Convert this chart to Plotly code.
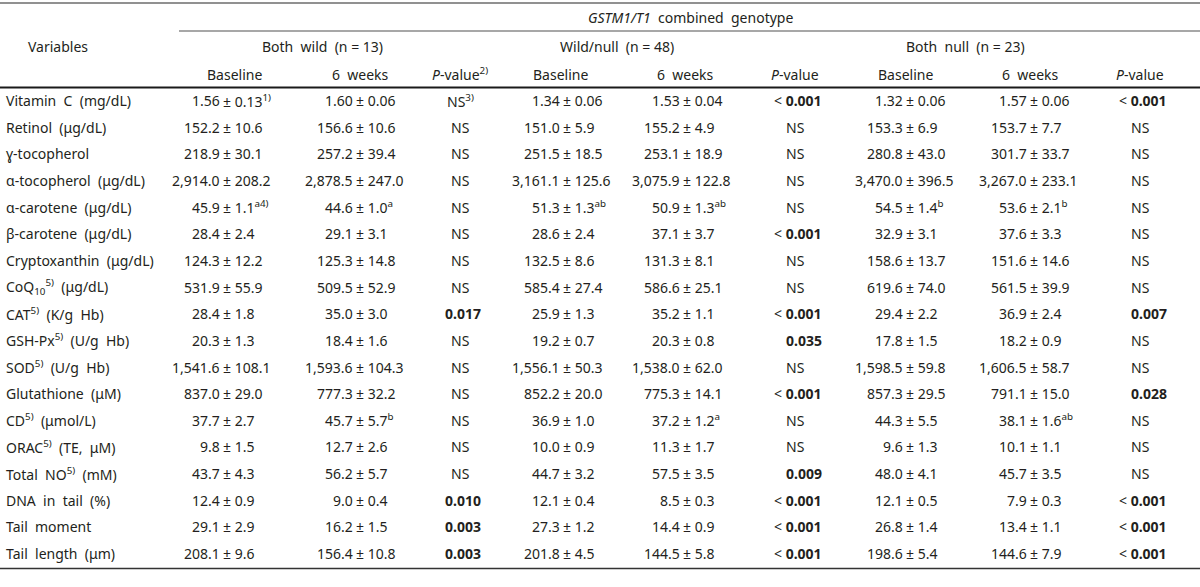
import plotly.graph_objects as go

# ---------------- data ----------------
variables = [
    "Vitamin C (mg/dL)", "Retinol (μg/dL)", "ɣ-tocopherol", "α-tocopherol (μg/dL)",
    "α-carotene (μg/dL)", "β-carotene (μg/dL)", "Cryptoxanthin (μg/dL)",
    "CoQ<sub>10</sub><sup>5)</sup> (μg/dL)", "CAT<sup>5)</sup> (K/g Hb)",
    "GSH-Px<sup>5)</sup> (U/g Hb)", "SOD<sup>5)</sup> (U/g Hb)", "Glutathione (μM)",
    "CD<sup>5)</sup> (μmol/L)", "ORAC<sup>5)</sup> (TE, μM)", "Total NO<sup>5)</sup> (mM)",
    "DNA in tail (%)", "Tail moment", "Tail length (μm)",
]

group_labels = ["Both wild (n = 13)", "Wild/null (n = 48)", "Both null (n = 23)"]
sub_labels = ["Baseline", "6 weeks", "<i>P</i>-value<sup>2)</sup>",
              "Baseline", "6 weeks", "<i>P</i>-value",
              "Baseline", "6 weeks", "<i>P</i>-value"]

bw_base = ["1.56 ± 0.13<sup>1)</sup>", "152.2 ± 10.6", "218.9 ± 30.1", "2,914.0 ± 208.2",
           "45.9 ± 1.1<sup>a4)</sup>", "28.4 ± 2.4", "124.3 ± 12.2", "531.9 ± 55.9",
           "28.4 ± 1.8", "20.3 ± 1.3", "1,541.6 ± 108.1", "837.0 ± 29.0", "37.7 ± 2.7",
           "9.8 ± 1.5", "43.7 ± 4.3", "12.4 ± 0.9", "29.1 ± 2.9", "208.1 ± 9.6"]
bw_6w = ["1.60 ± 0.06", "156.6 ± 10.6", "257.2 ± 39.4", "2,878.5 ± 247.0",
         "44.6 ± 1.0<sup>a</sup>", "29.1 ± 3.1", "125.3 ± 14.8", "509.5 ± 52.9",
         "35.0 ± 3.0", "18.4 ± 1.6", "1,593.6 ± 104.3", "777.3 ± 32.2",
         "45.7 ± 5.7<sup>b</sup>", "12.7 ± 2.6", "56.2 ± 5.7", "9.0 ± 0.4", "16.2 ± 1.5",
         "156.4 ± 10.8"]
bw_p = ["NS<sup>3)</sup>", "NS", "NS", "NS", "NS", "NS", "NS", "NS", "0.017", "NS", "NS",
        "NS", "NS", "NS", "NS", "0.010", "0.003", "0.003"]

wn_base = ["1.34 ± 0.06", "151.0 ± 5.9", "251.5 ± 18.5", "3,161.1 ± 125.6",
           "51.3 ± 1.3<sup>ab</sup>", "28.6 ± 2.4", "132.5 ± 8.6", "585.4 ± 27.4",
           "25.9 ± 1.3", "19.2 ± 0.7", "1,556.1 ± 50.3", "852.2 ± 20.0", "36.9 ± 1.0",
           "10.0 ± 0.9", "44.7 ± 3.2", "12.1 ± 0.4", "27.3 ± 1.2", "201.8 ± 4.5"]
wn_6w = ["1.53 ± 0.04", "155.2 ± 4.9", "253.1 ± 18.9", "3,075.9 ± 122.8",
         "50.9 ± 1.3<sup>ab</sup>", "37.1 ± 3.7", "131.3 ± 8.1", "586.6 ± 25.1",
         "35.2 ± 1.1", "20.3 ± 0.8", "1,538.0 ± 62.0", "775.3 ± 14.1",
         "37.2 ± 1.2<sup>a</sup>", "11.3 ± 1.7", "57.5 ± 3.5", "8.5 ± 0.3", "14.4 ± 0.9",
         "144.5 ± 5.8"]
wn_p = ["<0.001", "NS", "NS", "NS", "NS", "<0.001", "NS", "NS", "<0.001", "0.035", "NS",
        "<0.001", "NS", "NS", "0.009", "<0.001", "<0.001", "<0.001"]

bn_base = ["1.32 ± 0.06", "153.3 ± 6.9", "280.8 ± 43.0", "3,470.0 ± 396.5",
           "54.5 ± 1.4<sup>b</sup>", "32.9 ± 3.1", "158.6 ± 13.7", "619.6 ± 74.0",
           "29.4 ± 2.2", "17.8 ± 1.5", "1,598.5 ± 59.8", "857.3 ± 29.5", "44.3 ± 5.5",
           "9.6 ± 1.3", "48.0 ± 4.1", "12.1 ± 0.5", "26.8 ± 1.4", "198.6 ± 5.4"]
bn_6w = ["1.57 ± 0.06", "153.7 ± 7.7", "301.7 ± 33.7", "3,267.0 ± 233.1",
         "53.6 ± 2.1<sup>b</sup>", "37.6 ± 3.3", "151.6 ± 14.6", "561.5 ± 39.9",
         "36.9 ± 2.4", "18.2 ± 0.9", "1,606.5 ± 58.7", "791.1 ± 15.0",
         "38.1 ± 1.6<sup>ab</sup>", "10.1 ± 1.1", "45.7 ± 3.5", "7.9 ± 0.3", "13.4 ± 1.1",
         "144.6 ± 7.9"]
bn_p = ["<0.001", "NS", "NS", "NS", "NS", "NS", "NS", "NS", "0.007", "NS", "NS", "0.028",
        "NS", "NS", "NS", "<0.001", "<0.001", "<0.001"]

# ---------------- layout helpers ----------------
FONT = "Noto Sans"
FS = 14
TXT = "#231f20"

W, H = 1200, 587
row_y0, row_dy = 100.5, 26.65
y_title, y_group, y_sub = 17, 46, 74

value_cols = [(bw_base, 226), (bw_6w, 359), (wn_base, 566), (wn_6w, 686),
              (bn_base, 909), (bn_6w, 1033)]
p_cols = [(bw_p, 460, 482), (wn_p, 795, 823), (bn_p, 1140, 1168)]
sub_x = [234, 360, 460, 560, 685, 795, 905, 1030, 1140]
group_x = [322, 617, 965]

ann = []


def add(x, y, text, anchor="center"):
    ann.append(dict(x=x, y=y, xref="x", yref="y", text=text, showarrow=False,
                    xanchor=anchor, yanchor="middle", borderpad=0,
                    font=dict(family=FONT, size=FS, color=TXT)))


def wide(s):
    return s.replace(" ", "\u00a0 ")


# header
add(690, y_title, "<i>GSTM1/T1</i>\u00a0 combined\u00a0 genotype")
add(58, y_group, "Variables")
for gx, gl in zip(group_x, group_labels):
    add(gx, y_group, gl.replace("n = ", "n=").replace(" ", "\u00a0 ").replace("n=", "n = "))
for sx, sl in zip(sub_x, sub_labels):
    add(sx, y_sub, sl.replace("6 weeks", "6\u00a0 weeks"))

# body
for i, v in enumerate(variables):
    y = row_y0 + i * row_dy
    add(5, y, wide(v), anchor="left")
    for col, pmx in value_cols:
        mean, sd = col[i].split(" ± ")
        add(pmx - 5, y, mean, anchor="right")
        add(pmx - 4.5, y, "± " + sd, anchor="left")
    for col, cx, rx in p_cols:
        p = col[i]
        if p.startswith("NS"):
            add(cx, y, p)
        elif p.startswith("<"):
            add(rx, y, "< <b>" + p[1:] + "</b>", anchor="right")
        else:
            add(rx, y, "<b>" + p + "</b>", anchor="right")

# invisible trace to anchor the axes
fig = go.Figure(go.Scatter(x=[0, W], y=[0, H], mode="markers",
                           marker=dict(opacity=0), hoverinfo="skip", showlegend=False))

line_top = 3
line_title = 31
line_head = 87.5
line_bottom = row_y0 + (len(variables) - 1) * row_dy + 15

shapes = [
    dict(type="line", xref="x", yref="y", x0=0, x1=W, y0=line_top, y1=line_top,
         line=dict(color="#6d6d6d", width=1.5)),
    dict(type="line", xref="x", yref="y", x0=179, x1=W, y0=line_title, y1=line_title,
         line=dict(color="#8a8a8a", width=1.5)),
    dict(type="line", xref="x", yref="y", x0=0, x1=W, y0=line_head, y1=line_head,
         line=dict(color="#1a1a1a", width=2)),
    dict(type="line", xref="x", yref="y", x0=0, x1=W, y0=line_bottom, y1=line_bottom,
         line=dict(color="#333333", width=1.5)),
]

fig.update_layout(
    width=W, height=H, margin=dict(l=0, r=0, t=0, b=0),
    paper_bgcolor="white", plot_bgcolor="white",
    xaxis=dict(range=[0, W], visible=False, fixedrange=True),
    yaxis=dict(range=[H, 0], visible=False, fixedrange=True),
    annotations=ann, shapes=shapes, showlegend=False,
)

fig.write_html("out.html", config={"displayModeBar": False},
               post_script="document.body.style.margin='0';document.body.style.overflow='hidden';")
